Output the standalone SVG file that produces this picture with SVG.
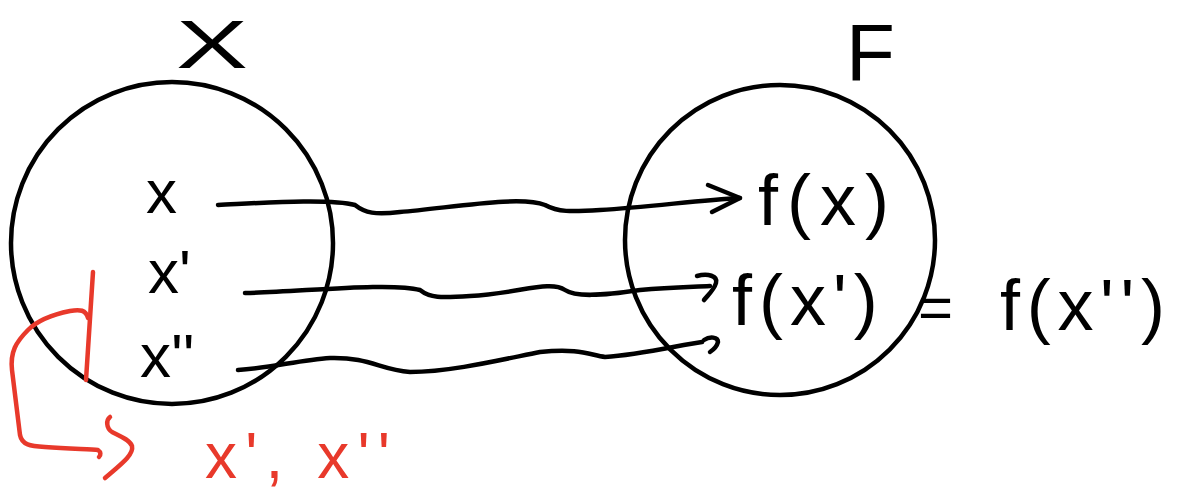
<svg xmlns="http://www.w3.org/2000/svg" width="1180" height="493" viewBox="0 0 1180 493">
<style>
.ink{fill:none;stroke:#000;stroke-width:4.5;stroke-linecap:round;stroke-linejoin:round}
.red{fill:none;stroke:#e8392b;stroke-width:4.5;stroke-linecap:round;stroke-linejoin:round}
.t{font-family:"Liberation Sans","DejaVu Sans",sans-serif;fill:#000}
.tr{font-family:"Liberation Sans","DejaVu Sans",sans-serif;fill:#e8392b}
</style>
<rect width="1180" height="493" fill="#fff"/>
<g id="setX">
<circle class="ink" cx="172" cy="243" r="161"/>
<text class="t" x="176" y="68" font-size="68" textLength="72" lengthAdjust="spacingAndGlyphs">X</text>
</g>
<g id="setF">
<circle class="ink" cx="780" cy="240" r="155"/>
<text class="t" x="846" y="80" font-size="80">F</text>
</g>
<g id="node-x">
<text class="t" x="146" y="213" font-size="62">x</text>
</g>
<g id="node-x1">
<text class="t" x="148" y="293" font-size="62">x'</text>
</g>
<g id="node-x2">
<text class="t" x="140" y="377" font-size="62">x''</text>
</g>
<g id="node-fx">
<text class="t" x="758" y="225" font-size="72" letter-spacing="9">f(x)</text>
</g>
<g id="node-fx1">
<text class="t" x="732" y="325" font-size="72" letter-spacing="7">f(x')</text>
</g>
<g id="node-fx2">
<text class="t" x="918" y="328" font-size="60">=</text>
<text class="t" x="1000" y="330" font-size="72" textLength="165" lengthAdjust="spacing">f(x'')</text>
</g>
<g id="connectors">
<path class="ink" d="M218,205 C260,203 330,198 355,205 C365,213 375,215 400,212 C450,208 520,195 545,205 C558,212 570,212 600,210 C650,207 700,200 740,198"/>
<path class="ink" d="M708,185 L740,198 L712,212"/>
<path class="ink" d="M245,293 C300,292 390,282 420,290 C430,298 440,298 470,296 C520,293 550,280 565,290 C575,297 600,296 640,290 C670,287 690,287 710,286"/>
<path class="ink" d="M697,276 C708,273 718,276 716,283 C714,290 708,295 704,300"/>
<path class="ink" d="M238,370 C270,368 300,360 330,358 C370,357 380,370 410,372 C450,372 500,360 540,352 C580,348 590,355 605,357 C640,355 680,345 702,342"/>
<path class="ink" d="M704,340 C710,336 718,337 718,342 C717,346 713,350 710,352"/>
</g>
<g id="bracket">
<path class="red" d="M93,272 L86,380"/>
<path class="red" d="M88,318 C86,310 80,309 70,311 C55,314 38,320 28,330 C16,342 10,352 12,370 C15,395 18,420 20,435 C22,445 30,446 45,447 C70,449 90,449 98,450 C101,452 101,455 99,457"/>
<path class="red" d="M110,417 C106,420 106,428 112,432 C120,436 130,440 132,446 C134,455 120,465 105,478"/>
</g>
<g id="red-label">
<text class="tr" x="205" y="478" font-size="64" textLength="185" lengthAdjust="spacing">x', x''</text>
</g>
</svg>
